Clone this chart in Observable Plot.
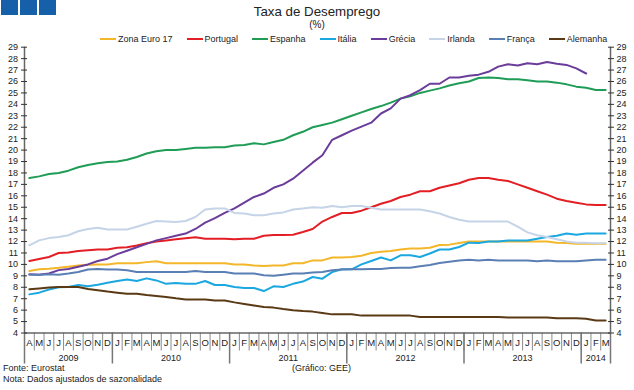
<!DOCTYPE html>
<html><head><meta charset="utf-8">
<script src="https://cdn.jsdelivr.net/npm/d3@7"></script>
<script src="https://cdn.jsdelivr.net/npm/@observablehq/plot@0.6"></script>
<style>
body{margin:0;background:#fff;font-family:"Liberation Sans",Arial,sans-serif;color:#222}
#wrap{position:relative;width:634px;height:390px;overflow:hidden}
.logo{position:absolute;top:0;width:17px;height:15px;background:#1560a8}
#title{position:absolute;top:4px;left:0;width:634px;text-align:center;font-size:13.3px;line-height:15px}
#sub{position:absolute;top:19px;left:0;width:634px;text-align:center;font-size:10px;line-height:12px}
#legend{position:absolute;top:33px;left:100px;display:flex;gap:14px;font-size:9px;line-height:12px;white-space:nowrap}
.item{display:flex;align-items:center}
.sw{width:16px;height:2.5px;margin-right:2px}
#chart{position:absolute;top:44px;left:0}
.foot{position:absolute;font-size:9px;line-height:11px;white-space:nowrap;color:#222}
</style></head>
<body>
<div id="wrap">
  <div class="logo" style="left:1px"></div>
  <div class="logo" style="left:20px"></div>
  <div class="logo" style="left:39px"></div>
  <div id="title">Taxa de Desemprego</div>
  <div id="sub">(%)</div>
  <div id="legend"></div>
  <div id="chart"></div>
  <div class="foot" style="left:3px;top:363px">Fonte: Eurostat</div>
  <div class="foot" style="left:3px;top:374px">Nota: Dados ajustados de sazonalidade</div>
  <div class="foot" style="left:292px;top:363px">(Gráfico: GEE)</div>
</div>
<script>
// Months: April 2009 .. March 2014
const monthLabels = ["A","M","J","J","A","S","O","N","D",
  "J","F","M","A","M","J","J","A","S","O","N","D",
  "J","F","M","A","M","J","J","A","S","O","N","D",
  "J","F","M","A","M","J","J","A","S","O","N","D",
  "J","F","M","A","M","J","J","A","S","O","N","D",
  "J","F","M"];
const yearLabels = ["2009","2010","2011","2012","2013","2014"];
const yearBounds = [0, 9, 21, 33, 45, 57, 60];
const yTicks = d3.range(4, 30);

const seriesNames = ["Zona Euro 17","Portugal","Espanha","Itália","Grécia","Irlanda","França","Alemanha"];
const seriesColors = ["#f3b729","#e31e24","#1f9d57","#1ba7df","#6b3d9a","#c5d4e7","#5a7fb4","#5a3a14"];

const zonaEuro = [9.42,9.57,9.62,9.7,9.8,9.9,9.98,10.0,10.0,10.1,
  10.1,10.1,10.2,10.27,10.1,10.1,10.1,10.1,10.1,10.1,
  10.1,10.0,10.0,9.9,9.85,9.9,9.9,10.1,10.1,10.35,
  10.35,10.6,10.6,10.65,10.75,11.0,11.1,11.17,11.3,11.4,
  11.4,11.45,11.7,11.73,11.87,12.0,12.0,12.0,12.0,12.0,
  12.0,12.0,12.0,12.0,11.9,11.87,11.8,11.8,11.8,11.8];
const portugal = [10.3,10.47,10.65,11.0,11.05,11.17,11.23,11.3,11.3,11.45,
  11.5,11.65,11.85,12.0,12.1,12.2,12.28,12.37,12.25,12.25,
  12.25,12.2,12.25,12.25,12.5,12.57,12.57,12.6,12.83,13.1,
  13.75,14.15,14.5,14.5,14.7,15.0,15.3,15.55,15.9,16.1,
  16.4,16.4,16.7,16.9,17.1,17.4,17.55,17.55,17.4,17.3,
  17.0,16.7,16.4,16.1,15.75,15.55,15.4,15.25,15.2,15.2];
const espanha = [17.55,17.7,17.9,18.0,18.2,18.5,18.7,18.85,18.95,19.0,
  19.15,19.4,19.7,19.9,20.0,20.0,20.1,20.2,20.2,20.25,
  20.25,20.4,20.45,20.6,20.5,20.7,20.9,21.3,21.6,22.0,
  22.2,22.4,22.7,23.0,23.3,23.6,23.85,24.15,24.5,24.7,
  25.0,25.2,25.4,25.65,25.85,26.0,26.3,26.35,26.3,26.2,
  26.2,26.1,26.0,26.0,25.9,25.75,25.55,25.45,25.25,25.25];
const italia = [7.38,7.53,7.8,8.0,8.02,8.2,8.08,8.22,8.4,8.55,
  8.67,8.55,8.78,8.6,8.3,8.37,8.3,8.3,8.55,8.2,
  8.2,8.02,7.94,7.94,7.67,8.08,8.02,8.3,8.5,8.9,
  8.75,9.33,9.57,9.57,10.0,10.3,10.6,10.35,10.8,10.8,
  10.65,10.95,11.3,11.3,11.52,11.9,11.87,12.0,12.0,12.1,
  12.1,12.1,12.25,12.4,12.5,12.7,12.6,12.7,12.7,12.7];
const grecia = [9.13,9.1,9.2,9.5,9.6,9.8,10.0,10.3,10.5,10.9,
  11.2,11.5,11.8,12.1,12.3,12.5,12.7,13.1,13.65,14.05,
  14.5,14.9,15.4,15.9,16.2,16.7,17.0,17.5,18.2,18.9,
  19.55,20.9,21.3,21.7,22.05,22.4,23.2,23.65,24.5,24.8,
  25.25,25.8,25.8,26.35,26.35,26.5,26.6,26.85,27.3,27.5,
  27.4,27.6,27.5,27.7,27.55,27.45,27.15,26.7];
const irlanda = [11.67,12.1,12.3,12.4,12.55,12.9,13.1,13.2,13.05,13.05,
  13.05,13.3,13.55,13.8,13.75,13.7,13.8,14.15,14.8,14.9,
  14.9,14.5,14.45,14.3,14.3,14.45,14.55,14.8,14.9,15.0,
  14.95,15.1,15.0,15.1,15.1,14.95,14.8,14.8,14.8,14.8,
  14.8,14.65,14.45,14.15,13.9,13.75,13.75,13.75,13.75,13.75,
  13.3,12.8,12.55,12.4,12.2,12.0,11.9,11.9,11.85,11.85];
const franca = [9.1,9.1,9.13,9.1,9.2,9.33,9.55,9.6,9.55,9.55,
  9.48,9.33,9.33,9.33,9.33,9.33,9.33,9.42,9.33,9.33,
  9.33,9.2,9.2,9.2,9.05,9.0,9.1,9.2,9.2,9.3,
  9.33,9.48,9.55,9.57,9.57,9.6,9.6,9.68,9.7,9.7,
  9.83,9.95,10.12,10.24,10.35,10.4,10.35,10.4,10.35,10.35,
  10.35,10.35,10.27,10.35,10.27,10.27,10.27,10.35,10.4,10.4];
const alemanha = [7.82,7.9,7.97,8.02,8.02,8.02,7.85,7.73,7.62,7.53,
  7.44,7.44,7.32,7.24,7.15,7.03,6.94,6.92,6.92,6.85,
  6.85,6.68,6.54,6.4,6.27,6.22,6.1,6.0,5.92,5.87,
  5.75,5.63,5.63,5.63,5.52,5.52,5.52,5.52,5.52,5.52,
  5.4,5.4,5.4,5.4,5.4,5.4,5.4,5.4,5.4,5.35,
  5.35,5.35,5.35,5.35,5.28,5.28,5.28,5.25,5.1,5.1];

const seriesValues = [zonaEuro, portugal, espanha, italia, grecia, irlanda, franca, alemanha];

const data = seriesValues.flatMap((vals, k) =>
  vals.map((v, i) => ({s: seriesNames[k], x: i + 0.5, v})));

// legend
const leg = document.getElementById("legend");
seriesNames.forEach((n, k) => {
  const it = document.createElement("div"); it.className = "item";
  const sw = document.createElement("div"); sw.className = "sw"; sw.style.background = seriesColors[k];
  const tx = document.createElement("span"); tx.textContent = n;
  it.appendChild(sw); it.appendChild(tx); leg.appendChild(it);
});

const monthCenters = monthLabels.map((d, i) => i + 0.5);
const yearCenters = yearLabels.map((d, i) => (yearBounds[i] + yearBounds[i + 1]) / 2);

const chart = Plot.plot({
  width: 634, height: 322,
  marginTop: 2.7, marginBottom: 33.5, marginLeft: 24, marginRight: 24,
  x: {domain: [0, 60], axis: null},
  y: {domain: [4, 29], axis: null},
  color: {domain: seriesNames, range: seriesColors},
  style: {fontFamily: "'Liberation Sans', Arial, sans-serif", fontSize: "9px", color: "#222", overflow: "visible", background: "transparent"},
  marks: [
    Plot.axisX({ticks: d3.range(0, 61), tickSize: 18, tickFormat: () => "", label: null, stroke: "#8a8a8a"}),
    Plot.axisX({ticks: yearBounds, tickSize: 31, tickFormat: () => "", label: null, stroke: "#777", strokeWidth: 1.5}),
    Plot.axisX({ticks: monthCenters, tickSize: 0, tickPadding: 6, tickFormat: d => monthLabels[Math.floor(d)], label: null, fontSize: 9.5}),
    Plot.axisX({ticks: yearCenters, tickSize: 0, tickPadding: 22, tickFormat: d => yearLabels[yearCenters.indexOf(d)], label: null, fontSize: 9}),
    Plot.ruleX([0, 60], {stroke: "#666", strokeWidth: 1.5}),
    Plot.ruleY([4], {stroke: "#666", strokeWidth: 1.5}),
    Plot.axisY({anchor: "left", ticks: yTicks, tickSize: 6, tickPadding: 3.5, dx: 3, label: null, stroke: "#333"}),
    Plot.axisY({anchor: "right", ticks: yTicks, tickSize: 6, tickPadding: 3, dx: -3, label: null, stroke: "#333"}),
    Plot.line(data, {x: "x", y: "v", z: "s", stroke: "s", strokeWidth: 2})
  ]
});
document.getElementById("chart").appendChild(chart);
</script>
</body></html>
